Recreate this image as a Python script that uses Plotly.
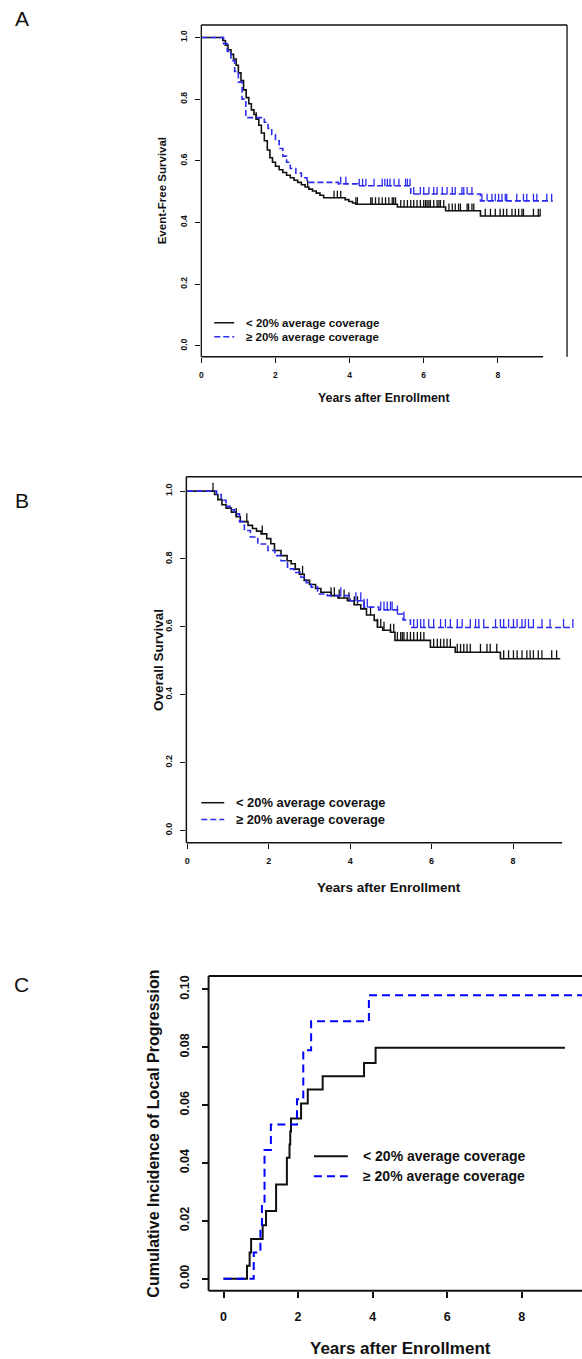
import numpy as np
import plotly.graph_objects as go

W, H = 582, 1359
FONT = "Liberation Sans"

series_names = ["< 20% average coverage", "\u2265 20% average coverage"]
panel_letters = ["A", "B", "C"]
x_title = "Years after Enrollment"
y_titles = ["Event-Free Survival", "Overall Survival", "Cumulative Incidence of Local Progression"]

x_ticks = [0, 2, 4, 6, 8]
x_tick_labels = ["0", "2", "4", "6", "8"]
surv_ticks = [0.0, 0.2, 0.4, 0.6, 0.8, 1.0]
surv_tick_labels = ["0.0", "0.2", "0.4", "0.6", "0.8", "1.0"]
ci_ticks = [0.00, 0.02, 0.04, 0.06, 0.08, 0.10]
ci_tick_labels = ["0.00", "0.02", "0.04", "0.06", "0.08", "0.10"]

# ---- Panel A: event-free survival (Kaplan-Meier step data) ----
efs_low_t = [0, 0.58, 0.65, 0.72, 0.80, 0.87, 0.94, 1.00, 1.07, 1.14, 1.21, 1.28, 1.35, 1.42, 1.48,
             1.55, 1.62, 1.70, 1.78, 1.85, 1.92, 2.00, 2.10, 2.20, 2.30, 2.40, 2.50, 2.60, 2.70, 2.80,
             2.90, 3.00, 3.10, 3.20, 3.30, 3.88, 3.98, 4.08, 4.17, 5.29, 6.59, 7.53, 9.14]
efs_low_s = [1.0, 0.99, 0.975, 0.96, 0.945, 0.93, 0.91, 0.885, 0.86, 0.83, 0.805, 0.785, 0.765, 0.75,
             0.735, 0.715, 0.69, 0.665, 0.635, 0.61, 0.595, 0.582, 0.571, 0.562, 0.553, 0.545, 0.537,
             0.53, 0.522, 0.515, 0.508, 0.502, 0.495, 0.488, 0.48, 0.474, 0.468, 0.463, 0.459, 0.45,
             0.438, 0.421, 0.421]
efs_low_cens = [1.48, 2.87, 3.58, 3.67, 3.76, 4.17, 4.21, 4.57, 4.61, 4.70, 4.79, 4.88, 4.97, 5.06,
                5.15, 5.19, 5.24, 5.38, 5.47, 5.56, 5.65, 5.73, 5.82, 5.91, 6.00, 6.05, 6.09, 6.14,
                6.18, 6.27, 6.36, 6.41, 6.45, 6.54, 6.68, 6.77, 6.85, 6.94, 6.99, 7.17, 7.21, 7.30,
                7.35, 7.66, 7.80, 7.93, 8.06, 8.15, 8.24, 8.38, 8.47, 8.56, 8.65, 8.69, 8.96, 9.09, 9.14]
efs_high_t = [0, 0.60, 0.70, 0.80, 0.90, 1.00, 1.10, 1.20, 1.70, 1.80, 1.90, 2.00, 2.10, 2.20, 2.30,
              2.40, 2.55, 2.70, 2.85, 3.70, 4.22, 5.65, 7.53, 9.48]
efs_high_s = [1.0, 0.98, 0.955, 0.925, 0.89, 0.855, 0.80, 0.74, 0.725, 0.705, 0.685, 0.665, 0.64,
              0.615, 0.595, 0.575, 0.56, 0.545, 0.53, 0.525, 0.519, 0.492, 0.47, 0.47]
efs_high_cens = [3.76, 3.90, 4.26, 4.35, 4.44, 4.66, 4.88, 4.95, 5.02, 5.09, 5.20, 5.33, 5.51, 5.56,
                 5.63, 5.73, 5.91, 6.00, 6.14, 6.27, 6.36, 6.50, 6.63, 6.77, 6.85, 7.03, 7.08, 7.17,
                 7.30, 7.57, 7.71, 7.84, 7.93, 8.02, 8.11, 8.20, 8.24, 8.51, 8.69, 8.78, 8.96, 9.05,
                 9.32, 9.45]

# ---- Panel B: overall survival ----
os_low_t = [0, 0.67, 0.75, 0.85, 0.95, 1.08, 1.20, 1.30, 1.49, 1.60, 1.70, 1.81, 1.95, 2.05, 2.14,
            2.30, 2.45, 2.55, 2.65, 2.75, 2.87, 3.00, 3.15, 3.28, 3.53, 3.70, 3.93, 4.10, 4.26, 4.40,
            4.59, 4.67, 4.80, 4.99, 5.10, 5.97, 6.58, 7.69, 9.16]
os_low_s = [1.0, 0.99, 0.975, 0.96, 0.95, 0.938, 0.925, 0.91, 0.899, 0.89, 0.882, 0.874, 0.86, 0.845,
            0.825, 0.81, 0.795, 0.786, 0.77, 0.755, 0.737, 0.725, 0.713, 0.702, 0.692, 0.685, 0.677,
            0.665, 0.653, 0.635, 0.619, 0.599, 0.59, 0.584, 0.56, 0.54, 0.525, 0.506, 0.506]
os_low_cens = [0.63, 1.20, 1.46, 1.84, 2.83, 3.53, 3.61, 3.73, 3.85, 3.97, 4.10, 4.18, 4.34, 4.50,
               4.67, 4.75, 4.83, 4.99, 5.07, 5.16, 5.24, 5.28, 5.32, 5.40, 5.48, 5.56, 5.65, 5.73,
               5.81, 6.05, 6.14, 6.22, 6.30, 6.38, 6.46, 6.63, 6.71, 6.79, 6.87, 6.95, 7.20, 7.36,
               7.44, 7.60, 7.77, 7.89, 8.01, 8.10, 8.22, 8.34, 8.42, 8.50, 8.62, 8.71, 8.95, 9.07]
os_high_t = [0, 0.72, 0.83, 0.95, 1.05, 1.16, 1.28, 1.40, 1.55, 1.73, 1.98, 2.15, 2.30, 2.46, 2.62,
             2.79, 2.92, 3.04, 3.20, 3.44, 4.00, 4.34, 4.70, 5.16, 5.30, 5.48, 9.47]
os_high_s = [1.0, 0.99, 0.973, 0.955, 0.945, 0.933, 0.91, 0.884, 0.865, 0.844, 0.825, 0.81, 0.795,
             0.771, 0.76, 0.746, 0.73, 0.717, 0.697, 0.692, 0.677, 0.658, 0.65, 0.638, 0.62, 0.598, 0.598]
os_high_cens = [3.77, 4.14, 4.26, 4.34, 4.42, 4.75, 4.83, 4.91, 4.99, 5.03, 5.16, 5.32, 5.56, 5.65,
                5.73, 5.81, 5.93, 6.05, 6.22, 6.34, 6.46, 6.63, 6.75, 6.95, 7.08, 7.16, 7.28, 7.57,
                7.69, 7.77, 7.89, 8.01, 8.10, 8.22, 8.30, 8.38, 8.50, 8.71, 8.91, 9.24, 9.47]

# ---- Panel C: cumulative incidence of local progression ----
ci_low_t = [0, 0.63, 0.70, 0.74, 1.05, 1.14, 1.41, 1.70, 1.77, 1.79, 1.81, 2.08, 2.26, 2.66, 3.77, 4.08, 9.16]
ci_low_v = [0, 0.0045, 0.0091, 0.0137, 0.0185, 0.0234, 0.0326, 0.0418, 0.0464, 0.0509, 0.0554,
            0.0606, 0.0654, 0.070, 0.0746, 0.0798, 0.0798]
ci_high_t = [0, 0.81, 0.99, 1.03, 1.10, 1.27, 1.97, 2.14, 2.35, 3.90, 9.80]
ci_high_v = [0, 0.0091, 0.0174, 0.0266, 0.0445, 0.0533, 0.062, 0.079, 0.089, 0.098, 0.098]

BLACK = "#111111"
BLUE_AB = "#2b2bf0"
BLUE_C = "#0000ff"


def step_at(t, s, tc):
    idx = np.searchsorted(np.asarray(t), np.asarray(tc), side="right") - 1
    return np.asarray(s)[idx]


def px_x(p):
    return p / W


def px_y(p):
    return 1 - p / H


fig = go.Figure()

# panel geometry in pixels: (left, right, top, bottom)
geo = {
    1: (200, 567, 24, 356),
    2: (185, 582, 476, 842.3),
    3: (207.3, 582, 975.7, 1290.7),
}
xr = {1: [0, 9.866], 2: [-0.0245, 9.694], 3: [-0.401, 9.618]}
yr = {1: [-0.0357, 1.0405], 2: [-0.0362, 1.0427], 3: [-0.00415, 0.10465]}


def add_km(t, s, cens, color, dash, width, k, bar):
    xa, ya = ("x", "y") if k == 1 else (f"x{k}", f"y{k}")
    fig.add_trace(go.Scatter(x=t, y=s, mode="lines", line=dict(color=color, width=width, dash=dash,
                             shape="hv"), xaxis=xa, yaxis=ya, showlegend=False, hoverinfo="skip"))
    if cens is not None:
        fig.add_trace(go.Scatter(x=cens, y=step_at(t, s, cens), mode="markers",
                                 marker=dict(size=1, color=color),
                                 error_y=dict(type="constant", value=bar, valueminus=0, symmetric=False,
                                              width=0, thickness=1.3, color=color),
                                 xaxis=xa, yaxis=ya, showlegend=False, hoverinfo="skip"))


add_km(efs_low_t, efs_low_s, efs_low_cens, BLACK, "solid", 1.6, 1, 0.023)
add_km(efs_high_t, efs_high_s, efs_high_cens, BLUE_AB, "6px,3px", 1.6, 1, 0.023)
add_km(os_low_t, os_low_s, os_low_cens, BLACK, "solid", 1.6, 2, 0.025)
add_km(os_high_t, os_high_s, os_high_cens, BLUE_AB, "6px,3px", 1.6, 2, 0.025)
add_km(ci_low_t, ci_low_v, None, BLACK, "solid", 2, 3, 0)
add_km(ci_high_t, ci_high_v, None, BLUE_C, "8px,5px", 2, 3, 0)

tick_sizes = {1: 8.5, 2: 9, 3: 12.5}
tick_len = {1: 5, 2: 5, 3: 6}
layout = {}
for k in (1, 2, 3):
    L, R, T, B = geo[k]
    sx = "" if k == 1 else str(k)
    yticks = ci_ticks if k == 3 else surv_ticks
    ylabels = ci_tick_labels if k == 3 else surv_tick_labels
    tf = dict(family=FONT, size=tick_sizes[k], color="#111", weight="bold")
    layout["xaxis" + sx] = dict(domain=[px_x(L), px_x(R)], range=xr[k], anchor="y" + sx,
                                tickvals=x_ticks, ticktext=x_tick_labels, ticks="outside",
                                ticklen=tick_len[k], tickwidth=1.2 if k < 3 else 1.6, tickcolor="#111",
                                showgrid=False, zeroline=False, showline=False, tickfont=tf,
                                ticklabelstandoff=5 if k < 3 else 8)
    layout["yaxis" + sx] = dict(domain=[px_y(B), px_y(T)], range=yr[k], anchor="x" + sx,
                                tickvals=yticks, ticktext=ylabels, ticks="outside", tickangle=-90,
                                ticklen=tick_len[k], tickwidth=1.2 if k < 3 else 1.6, tickcolor="#111",
                                showgrid=False, zeroline=False, showline=False, tickfont=tf,
                                ticklabelstandoff=5 if k < 3 else 8)

shapes = []


def seg(x0, y0, x1, y1, w=1.3, color="#111", dash="solid"):
    shapes.append(dict(type="line", xref="paper", yref="paper", x0=px_x(x0), y0=px_y(y0),
                       x1=px_x(x1), y1=px_y(y1), line=dict(color=color, width=w, dash=dash)))


# frames
seg(200, 24, 567, 24); seg(200, 24, 200, 356); seg(567, 24, 567, 356); seg(200, 356, 543, 356)
seg(185, 476, 582, 476, 1.5); seg(185, 476, 185, 842.3, 1.5); seg(185, 842.3, 562, 842.3, 1.5)
seg(207.3, 975.7, 582, 975.7, 2); seg(207.3, 975.7, 207.3, 1290.7, 2); seg(207.3, 1290.7, 582, 1290.7, 2)

annotations = []


def txt(x, y, s, size, bold=True, angle=0, xanchor="center"):
    annotations.append(dict(x=px_x(x), y=px_y(y), xref="paper", yref="paper", text=s, showarrow=False,
                            textangle=angle, xanchor=xanchor, yanchor="middle",
                            font=dict(family=FONT, size=size, color="#111",
                                      weight="bold" if bold else "normal")))


# panel letters
txt(20, 18, panel_letters[0], 21, bold=False)
txt(20, 500, panel_letters[1], 21, bold=False)
txt(20, 984, panel_letters[2], 21, bold=False)

# axis titles
txt(383, 397, x_title, 12.4)
txt(160, 190, y_titles[0], 11.5, angle=-90)
txt(388, 887, x_title, 13.5)
txt(157, 659, y_titles[1], 13.5, angle=-90)
txt(400, 1348, x_title, 17)
txt(152, 1133, y_titles[2], 16, angle=-90)

# legends
legend_geo = [  # (x0, x1, y_first, y_second, text_x, size, width, dash_blue, blue)
    (213, 233, 322, 336, 243, 11.5, 1.5, "6px,3px", BLUE_AB),
    (200, 223, 802.3, 819, 233, 12.9, 1.5, "6px,3px", BLUE_AB),
    (313, 347, 1156, 1176, 360, 14, 2, "8px,5px", BLUE_C),
]
for (x0, x1, y1, y2, tx, fs, lw, bd, bc) in legend_geo:
    seg(x0, y1, x1, y1, lw, BLACK)
    seg(x0, y2, x1, y2, lw, bc, bd)
    txt(tx, y1, series_names[0], fs, xanchor="left")
    txt(tx, y2, series_names[1], fs, xanchor="left")

layout.update(dict(width=W, height=H, margin=dict(l=0, r=0, t=0, b=0), paper_bgcolor="white",
                   plot_bgcolor="white", shapes=shapes, annotations=annotations, showlegend=False))
fig.update_layout(**layout)

html = fig.to_html(full_html=True, include_plotlyjs=True, config={"displayModeBar": False})
html = html.replace("<head>", "<head><style>html,body{margin:0;padding:0;overflow:hidden;}</style>", 1)
with open("out.html", "w", encoding="utf-8") as f:
    f.write(html)
